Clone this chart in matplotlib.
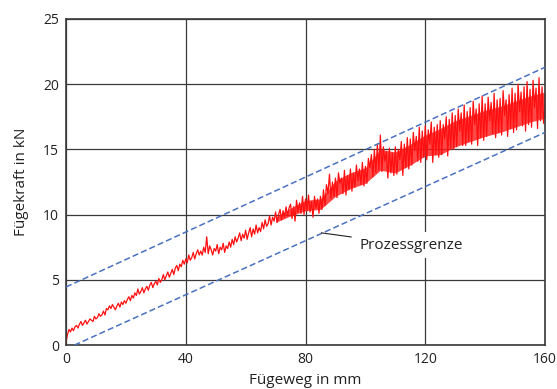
import numpy as np
import matplotlib.pyplot as plt

plt.rcParams['font.family'] = ['Open Sans', 'DejaVu Sans']

# Fügeweg in mm, sampled every 0.5 mm (0 ... 160)
weg = np.arange(0, 160.5, 0.5)

# Fügekraft in kN, one row per 5 mm
kraft = [
    0.2, 0.8, 1.2, 1.0, 1.3, 1.1, 1.4, 1.5, 1.3, 1.6,
    1.8, 1.5, 1.7, 1.9, 1.6, 1.8, 2.0, 1.9, 1.8, 2.2,
    2.0, 2.1, 2.4, 2.2, 2.3, 2.6, 2.3, 2.8, 2.7, 3.0,
    2.8, 3.1, 2.9, 2.7, 3.0, 3.2, 2.9, 3.3, 3.1, 3.4,
    3.2, 3.5, 3.7, 3.4, 3.8, 3.6, 4.0, 3.8, 4.3, 3.9,
    4.1, 4.4, 4.0, 4.3, 4.5, 4.2, 4.6, 4.8, 4.4, 4.7,
    4.9, 4.6, 5.1, 4.8, 5.0, 5.4, 5.0, 5.3, 5.6, 5.2,
    5.5, 5.8, 5.4, 5.9, 6.1, 5.7, 6.2, 6.0, 6.5, 6.2,
    6.6, 6.3, 6.9, 6.5, 6.7, 7.1, 6.6, 7.0, 7.3, 6.9,
    7.2, 6.9, 7.5, 7.1, 8.3, 7.0, 7.6, 7.3, 6.9, 7.4,
    7.2, 7.7, 7.0, 7.5, 7.3, 7.8, 7.1, 7.6, 7.4, 7.9,
    7.5, 8.1, 7.7, 8.3, 7.9, 8.2, 8.6, 8.0, 8.5, 8.2,
    8.8, 8.1, 8.6, 9.0, 8.3, 8.9, 8.5, 9.2, 8.6, 9.0,
    8.7, 9.4, 8.9, 9.6, 9.1, 9.3, 9.9, 9.2, 9.8, 9.5,
    10.2, 9.4, 10.0, 10.4, 9.6, 10.3, 9.8, 10.6, 9.9, 10.5,
    10.8, 9.7, 10.6, 9.5, 11.1, 10.2, 10.9, 10.1, 11.4, 10.0,
    11.2, 10.3, 11.5, 10.2, 11.0, 9.8, 11.4, 10.5, 11.2, 10.1,
    11.4, 10.4, 11.9, 10.7, 12.3, 11.6, 13.1, 11.2, 12.5, 11.4,
    12.8, 11.3, 13.2, 12.4, 12.8, 11.6, 13.4, 11.5, 13.0, 11.9,
    13.5, 11.8, 13.2, 12.1, 13.8, 12.6, 13.5, 12.3, 14.0, 12.2,
    13.7, 12.4, 14.3, 13.6, 14.6, 12.9, 15.0, 13.2, 15.4, 13.4,
    16.1, 13.3, 15.2, 14.1, 14.8, 12.8, 15.1, 13.2, 14.7, 13.0,
    15.2, 13.1, 15.0, 14.2, 15.6, 13.0, 15.4, 13.6, 15.9, 13.5,
    15.8, 13.8, 16.3, 14.9, 16.0, 14.1, 16.7, 14.0, 16.4, 14.4,
    16.8, 14.2, 16.5, 15.4, 17.1, 14.0, 16.7, 14.6, 16.9, 14.4,
    17.2, 14.6, 16.9, 15.8, 17.5, 14.5, 17.3, 15.1, 17.8, 15.0,
    17.6, 15.2, 18.1, 16.4, 17.8, 15.3, 18.4, 15.3, 17.9, 15.6,
    18.2, 15.4, 18.7, 16.9, 18.1, 15.3, 18.5, 15.9, 19.1, 15.7,
    18.5, 16.0, 19.0, 17.2, 18.6, 16.2, 19.3, 15.9, 18.8, 16.3,
    18.9, 16.1, 19.5, 17.6, 18.8, 16.0, 19.2, 16.6, 19.7, 16.3,
    19.3, 16.5, 20.0, 17.9, 19.4, 16.8, 19.8, 16.4, 20.2, 16.9,
    19.6, 16.7, 20.3, 18.2, 19.7, 16.6, 20.5, 17.2, 19.8, 17.0,
    18.4,
]

# dense core of the noisy signal, every 5 mm (70 ... 160)
kern_x = np.arange(70, 165, 5)
kern_unten = [9.4, 9.9, 10.3, 10.4, 11.4, 12.0, 12.4, 13.4, 13.2, 13.8,
              14.5, 14.6, 15.2, 15.6, 16.0, 16.3, 16.7, 17.1, 17.4]
kern_oben = [9.8, 10.5, 11.1, 11.2, 12.6, 13.2, 13.6, 15.0, 14.8, 15.4,
             16.1, 16.6, 17.2, 17.6, 18.0, 18.3, 18.7, 19.1, 19.4]

# Prozessgrenzen (start/end points)
grenze_x = [0, 160]
grenze_oben = [4.45, 21.3]
grenze_unten = [-0.3, 16.3]

xticks = [0, 40, 80, 120, 160]
yticks = [0, 5, 10, 15, 20, 25]

fig = plt.figure(figsize=(5.57, 3.89), dpi=100)
ax = fig.add_axes([0.1185, 0.1131, 0.86, 0.8381])

gridcol = '#3a3a3a'
ax.set_xlim(0, 160)
ax.set_ylim(0, 25)
ax.set_xticks(xticks)
ax.set_yticks(yticks)
ax.grid(True, color=gridcol, linewidth=0.9, zorder=0)
ax.set_axisbelow(True)
ax.tick_params(length=0, labelsize=10, colors='#222222', pad=5)
for s in ax.spines.values():
    s.set_color(gridcol)
    s.set_linewidth(1.2)

ax.fill_between(kern_x, kern_unten, kern_oben, color='#ff1a1a', alpha=0.8,
                linewidth=0, zorder=2)
ax.plot(weg, kraft, color='#ff1010', linewidth=0.9, zorder=2)

ax.plot(grenze_x, grenze_oben, color='#4a72c0', linestyle=(0, (4, 2)),
        linewidth=1.1, zorder=3)
ax.plot(grenze_x, grenze_unten, color='#4a72c0', linestyle=(0, (4, 2)),
        linewidth=1.1, zorder=3)

ax.annotate('Prozessgrenze', xy=(85.3, 8.6), xytext=(98.0, 7.65),
            fontsize=11, va='center', ha='left', color='#222222',
            bbox=dict(boxstyle='square,pad=0.35', fc='white', ec='none'),
            arrowprops=dict(arrowstyle='-', color='#222222', lw=0.8,
                            shrinkA=2, shrinkB=0),
            zorder=4)

ax.set_xlabel('Fügeweg in mm', fontsize=11, color='#222222', labelpad=4)
ax.set_ylabel('Fügekraft in kN', fontsize=11, color='#222222', labelpad=10)

fig.savefig('out.png', dpi=100)
